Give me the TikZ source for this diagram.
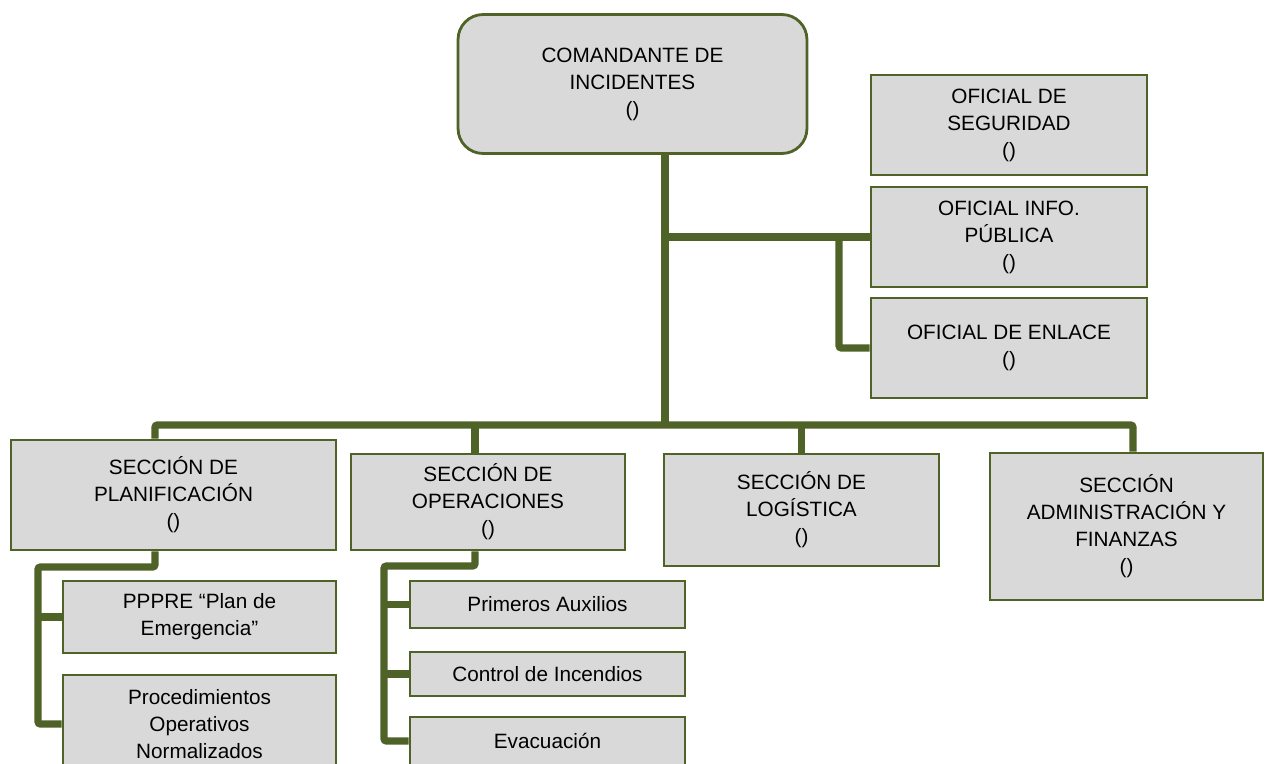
\documentclass[tikz,border=0pt]{standalone}
\usepackage{fontspec}
\setmainfont{Liberation Sans}
\definecolor{cigreen}{HTML}{4F6228}
\definecolor{cigray}{HTML}{D9D9D9}

\begin{document}
\begin{tikzpicture}[x=0.02cm, y=-0.02cm]
\tikzset{box/.style = {draw=cigreen, fill=cigray, line width=1.6pt, align=center, inner sep=2pt, font=\fontsize{11.8}{15.4}\selectfont}}
\tikzset{link/.style = {draw=cigreen, line width=4.2pt, rounded corners=1.5pt}}

\clip (0,0) rectangle (1265,764);

% mando
\node[box, rounded corners=0.5cm, minimum width=6.98cm, minimum height=2.78cm] (ci) at (632.5,84) {COMANDANTE DE\\INCIDENTES\\()};

% staff
\node[box, minimum width=5.52cm, minimum height=2cm] (seg) at (1009,125) {OFICIAL DE\\SEGURIDAD\\()};
\node[box, minimum width=5.52cm, minimum height=2cm] (info) at (1009,237) {OFICIAL INFO.\\PÚBLICA\\()};
\node[box, minimum width=5.52cm, minimum height=2cm] (enlace) at (1009,348) {OFICIAL DE ENLACE\\()};

% secciones
\node[box, minimum width=6.5cm, minimum height=2.2cm] (plan) at (173.5,495) {SECCIÓN DE\\PLANIFICACIÓN\\()};
\node[box, minimum width=5.48cm, minimum height=1.92cm] (ops) at (488,502) {SECCIÓN DE\\OPERACIONES\\()};
\node[box, minimum width=5.5cm, minimum height=2.24cm] (log) at (801.5,510) {SECCIÓN DE\\LOGÍSTICA\\()};
\node[box, minimum width=5.46cm, minimum height=2.94cm] (admin) at (1126.5,526.5) {SECCIÓN\\ADMINISTRACIÓN Y\\FINANZAS\\()};

% unidades
\node[box, minimum width=5.46cm, minimum height=1.44cm] (pppre) at (199.5,617) {PPPRE “Plan de\\Emergencia”};
\node[box, minimum width=5.46cm, minimum height=1.96cm] (proc) at (199.5,724) {Procedimientos\\Operativos\\Normalizados};
\node[box, minimum width=5.5cm, minimum height=0.94cm] (aux) at (547.5,604.5) {Primeros Auxilios};
\node[box, minimum width=5.5cm, minimum height=0.88cm] (fire) at (547.5,674) {Control de Incendios};
\node[box, minimum width=5.5cm, minimum height=0.96cm] (evac) at (547.5,741) {Evacuación};

\coordinate (bus) at (665,425);
\coordinate (tap) at (839,0);
\coordinate (planx) at (155,0);
\coordinate (opsx) at (475,0);
\coordinate (adminx) at (1133,0);
\coordinate (prail) at (38,567);
\coordinate (orail) at (384,566);

\draw[link] (ci.south -| bus) -- (bus);
\draw[link] (info.west -| bus) -- (info.west);
\draw[link] (info.west -| tap) |- (enlace.west);
\draw[link] (plan.north -| planx) -- (bus -| planx) -- (bus -| adminx) -- (admin.north -| adminx);
\draw[link] (ops.north -| opsx) -- (bus -| opsx);
\draw[link] (log.north) -- (bus -| log.north);

\draw[link] (plan.south -| planx) |- (prail) |- (proc.west);
\draw[link] (prail |- pppre.west) -- (pppre.west);
\draw[link] (ops.south -| opsx) |- (orail) |- (evac.west);
\draw[link] (orail |- aux.west) -- (aux.west);
\draw[link] (orail |- fire.west) -- (fire.west);
\end{tikzpicture}
\end{document}
